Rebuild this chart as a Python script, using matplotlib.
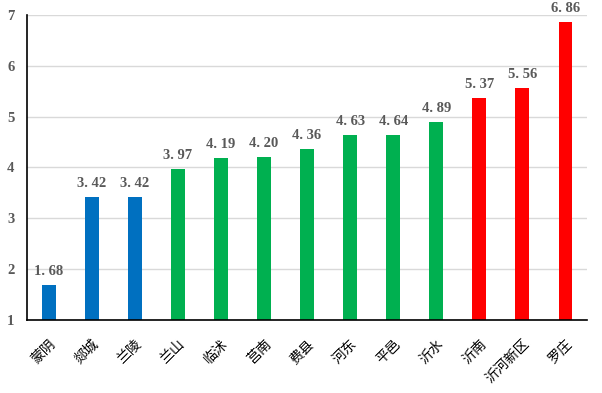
import numpy as np
import matplotlib.pyplot as plt

plt.rcParams['font.family'] = ['Noto Sans CJK SC', 'DejaVu Sans']

regions = ["蒙阴", "郯城", "兰陵", "兰山", "临沭", "莒南", "费县", "河东", "平邑", "沂水", "沂南", "沂河新区", "罗庄"]
values = [1.68, 3.42, 3.42, 3.97, 4.19, 4.20, 4.36, 4.63, 4.64, 4.89, 5.37, 5.56, 6.86]
groups = ["blue"] * 3 + ["green"] * 7 + ["red"] * 3
palette = {"blue": "#0070C0", "green": "#00B050", "red": "#FF0000"}

fig = plt.figure(figsize=(6.02, 3.93), dpi=100)
ax = fig.add_axes([0.045, 0.186, 0.93, 0.776])

x = np.arange(len(regions))
colors = [palette[g] for g in groups]
ax.bar(x, values, width=0.32, color=colors, bottom=0, zorder=3)

# SimSun-like look: half-width digits leave a gap after the dot
for xi, v in zip(x, values):
    ax.text(xi, v + 0.14, f"{v:.2f}".replace(".", ". "), ha="center", va="bottom",
            family="Liberation Serif", fontweight="bold", fontsize=10.5, color="#595959")

ax.set_ylim(1, 7)
ax.set_xlim(-0.5, len(regions) - 0.5)
ax.set_yticks(range(1, 8))
ax.set_yticklabels([str(i) for i in range(1, 8)], family="Liberation Serif",
                   fontweight="bold", fontsize=10.5, color="#595959")
ax.set_xticks(x)
ax.set_xticklabels(regions, rotation=45, ha="right", rotation_mode="anchor", fontsize=10)
ax.tick_params(axis="both", length=0)
ax.tick_params(axis="y", pad=9)
ax.tick_params(axis="x", pad=12)

ax.grid(axis="y", color="#D9D9D9", linewidth=1, zorder=0)
for s in ["top", "right"]:
    ax.spines[s].set_visible(False)
for s in ["left", "bottom"]:
    ax.spines[s].set_color("black")
    ax.spines[s].set_linewidth(1.2)
    ax.spines[s].set_zorder(4)

fig.savefig("out.png", dpi=100)
